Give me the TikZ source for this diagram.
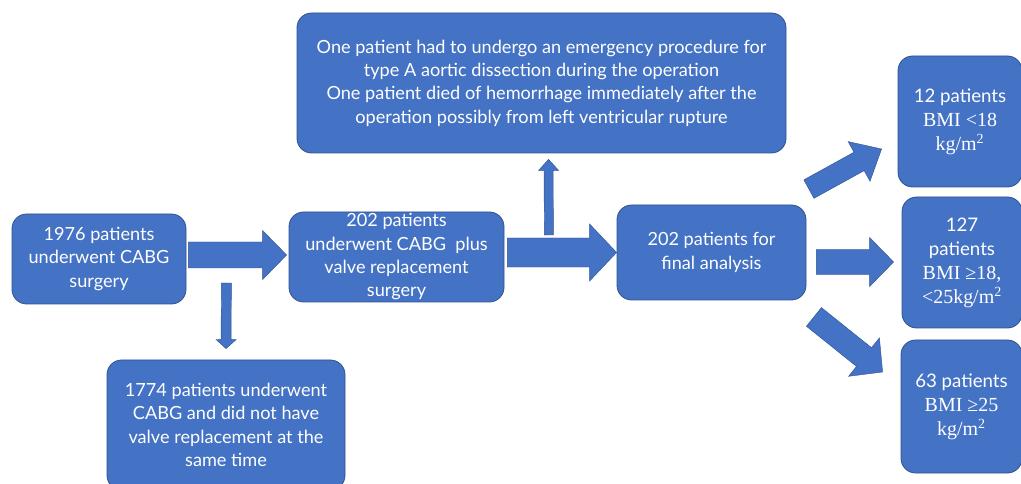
\documentclass[tikz,border=0pt]{standalone}
\usepackage{fontspec}
\setmainfont{Lato}
\newfontfamily\bmifont{Liberation Serif}[Scale=1.07]
\usetikzlibrary{calc,positioning}
\definecolor{boxblue}{HTML}{4472C4}
\definecolor{edgeblue}{HTML}{2F528F}

% block arrow: shaft half width, head half width, head length, from, to
\newcommand{\blockarrow}[5]{%
  \coordinate (ba-h) at ($(#5)!#3!(#4)$);
  \filldraw[arrowbody] ($(#4)!#1!90:(#5)$) -- ($(ba-h)!#1!-90:(#4)$) -- ($(ba-h)!#2!-90:(#4)$)
    -- (#5) -- ($(ba-h)!#2!90:(#4)$) -- ($(ba-h)!#1!90:(#4)$) -- ($(#4)!#1!-90:(#5)$) -- cycle;
}

\begin{document}
\begin{tikzpicture}[
    x=0.75pt, y=-0.75pt,
    flowbox/.style={rectangle, rounded corners=11pt, draw=edgeblue, line width=0.6pt,
                 fill=boxblue, text=white, align=center, inner sep=0pt,
                 font=\fontsize{13.6}{17.5}\selectfont},
    bmibox/.style={flowbox, minimum height=98.25pt, font=\fontsize{14}{18}\selectfont},
    arrowbody/.style={fill=boxblue, draw=edgeblue, line width=0.3pt},
]
    \useasboundingbox (0,0) rectangle (1021,484);
    \clip (0,0) rectangle (1021,484);

    \node[flowbox, minimum width=130.5pt, minimum height=67.5pt] (cabg) at (99,259)
        {1976 patients\\underwent CABG\\surgery};
    \node[flowbox, minimum width=161.25pt, minimum height=67.5pt] (valve) at (396.5,257)
        {202 patients\\underwent CABG\ \ plus\\valve replacement\\surgery};
    \node[flowbox, minimum width=141.75pt, minimum height=71.25pt] (final) at (711.5,252.5)
        {202 patients for\\final analysis};
    \node[flowbox, minimum width=366.75pt, minimum height=105pt] (excl) at (541.5,83)
        {One patient had to undergo an emergency procedure for\\type A aortic dissection during the operation\\
         One patient died of hemorrhage immediately after the\\operation possibly from left ventricular rupture};
    \node[flowbox, minimum width=178.5pt, minimum height=97.5pt] (novalve) at (226,425)
        {1774 patients underwent\\CABG and did not have\\valve replacement at the\\same time};

    \node[bmibox, minimum width=93pt] (low) at (960,121.5)
        {12 patients\\{\bmifont BMI <18}\\{\bmifont kg/m\textsuperscript{2}}};
    \node[bmibox, minimum width=90pt] (normal) at (962,262.5)
        {127\\patients\\{\bmifont BMI ≥18,}\\{\bmifont <25kg/m\textsuperscript{2}}};
    \node[bmibox, minimum width=90.75pt, minimum height=99.75pt] (high) at (961.5,406.5)
        {63 patients\\{\bmifont BMI ≥25}\\{\bmifont kg/m\textsuperscript{2}}};

    % arrow ends
    \coordinate (ab-s) at ($(cabg.east)+(2,-4)$);
    \coordinate (ab-e) at ($(valve.west)+(-2,-2)$);
    \coordinate (ae-s) at ($(cabg.east)+(40,24)$);
    \coordinate (ae-e) at ($(novalve.north)+(0,-11)$);
    \coordinate (bc-s) at ($(valve.east)+(3,-4.5)$);
    \coordinate (bc-e) at (final.west);
    \coordinate (bd-s) at ($(valve.east)+(44.5,-22)$);
    \coordinate (bd-e) at ($(excl.south)+(7,6)$);
    \coordinate (cf-s) at ($(final.north east)+(2.5,-15.5)$);
    \coordinate (cf-e) at ($(low.west)+(-16,27.5)$);
    \coordinate (cg-s) at ($(final.east)+(10,9.5)$);
    \coordinate (cg-e) at ($(normal.west)+(-8,-0.5)$);
    \coordinate (ch-s) at ($(final.south east)+(7.5,16.5)$);
    \coordinate (ch-e) at ($(high.west)+(-18,-34.5)$);

    \blockarrow{9.75pt}{18.4pt}{18pt}{ab-s}{ab-e}
    \blockarrow{3.75pt}{7.5pt}{6.75pt}{ae-s}{ae-e}
    \blockarrow{10.9pt}{21.4pt}{20.25pt}{bc-s}{bc-e}
    \blockarrow{3.4pt}{7.5pt}{8.25pt}{bd-s}{bd-e}
    \blockarrow{7.9pt}{17pt}{19.3pt}{cf-s}{cf-e}
    \blockarrow{9.4pt}{18.4pt}{18pt}{cg-s}{cg-e}
    \blockarrow{9pt}{18.5pt}{17.9pt}{ch-s}{ch-e}
\end{tikzpicture}
\end{document}
